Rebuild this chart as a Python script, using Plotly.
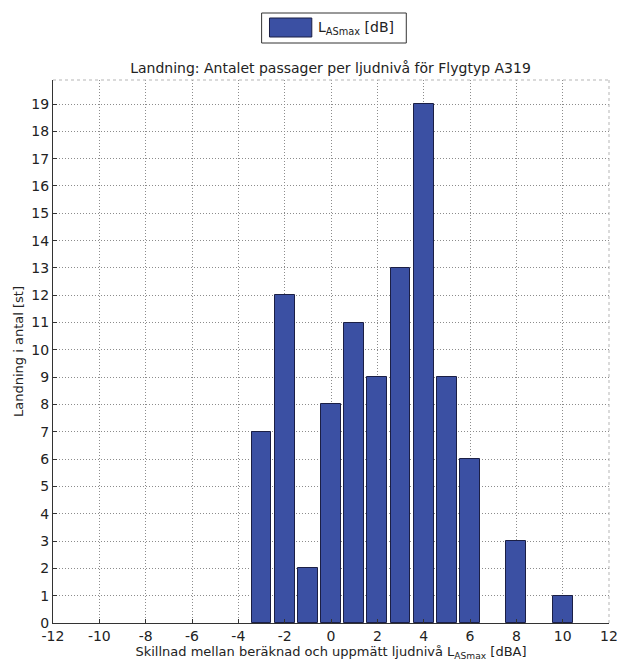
import plotly.graph_objects as go

# Difference between calculated and measured level [dBA] (bin centres) and number of landings
diff_dba = [-3, -2, -1, 0, 1, 2, 3, 4, 5, 6, 7, 8, 9, 10]
landings = [7, 12, 2, 8, 11, 9, 13, 19, 9, 6, 0, 3, 0, 1]

x_ticks = list(range(-12, 13, 2))
x_tick_text = [str(v) for v in x_ticks]  # plain hyphen minus signs
y_ticks = list(range(0, 20))

W, H = 628, 666
L, R, T, B = 53, 618, 80, 623  # plot area in pixels


def px(x):
    return (x - L) / (R - L)


def py(y):
    return (B - y) / (B - T)


FONT = "DejaVu Sans"
BAR_FILL = "#3B50A3"
BAR_EDGE = "#1B1F45"

fig = go.Figure()
fig.add_trace(go.Bar(
    x=diff_dba, y=landings, width=0.85,
    marker=dict(color=BAR_FILL,
                line=dict(color=BAR_EDGE, width=[1 if v > 0 else 0 for v in landings])),
    name="L<sub>ASmax</sub> [dB]", showlegend=False,
))

grid = dict(showgrid=True, gridcolor="#8c8c8c", griddash="1px,2px", gridwidth=1)

fig.update_layout(
    width=W, height=H,
    margin=dict(l=L, r=W - R, t=T, b=H - B),
    paper_bgcolor="white", plot_bgcolor="white",
    font=dict(family=FONT, size=14, color="#222"),
    bargap=0,
    title=dict(text="Landning: Antalet passager per ljudnivå för Flygtyp A319",
               x=px(335), xref="paper", xanchor="center",
               y=1 - 68 / H, yanchor="middle",
               font=dict(size=14, color="#222")),
    xaxis=dict(range=[-12, 12], tickvals=x_ticks, ticktext=x_tick_text,
               ticks="inside", ticklen=4,
               tickcolor="#333", showline=True, linecolor="#333", linewidth=1,
               zeroline=False, tickfont=dict(size=14),
               title=dict(text="Skillnad mellan beräknad och uppmätt ljudnivå L<sub>ASmax</sub> [dBA]",
                          standoff=2, font=dict(size=13)),
               **grid),
    yaxis=dict(range=[0, 19.88], tickvals=y_ticks, ticks="inside", ticklen=4,
               tickcolor="#333", showline=True, linecolor="#333", linewidth=1,
               zeroline=False, tickfont=dict(size=14),
               title=dict(text="Landning i antal [st]", standoff=4, font=dict(size=13)),
               **grid),
)

# Faint top and right border of the axes box
fig.add_shape(type="line", xref="paper", yref="paper", x0=0, x1=1, y0=1, y1=1,
              line=dict(color="#b5b5b5", width=1, dash="dot"))
fig.add_shape(type="line", xref="paper", yref="paper", x0=1, x1=1, y0=0, y1=1,
              line=dict(color="#b5b5b5", width=1, dash="dot"))

# Legend box with swatch
fig.add_shape(type="rect", xref="paper", yref="paper",
              x0=px(265), x1=px(412), y0=py(43), y1=py(13),
              line=dict(color="#333", width=1), fillcolor="white")
fig.add_shape(type="rect", xref="paper", yref="paper",
              x0=px(273), x1=px(316), y0=py(37), y1=py(18),
              line=dict(color=BAR_EDGE, width=1), fillcolor=BAR_FILL)
fig.add_annotation(text="L<sub>ASmax</sub> [dB]", xref="paper", yref="paper",
                   x=px(320), y=py(28), xanchor="left", yanchor="middle",
                   showarrow=False, font=dict(size=14, color="#222"))

fig.write_html("out.html")
